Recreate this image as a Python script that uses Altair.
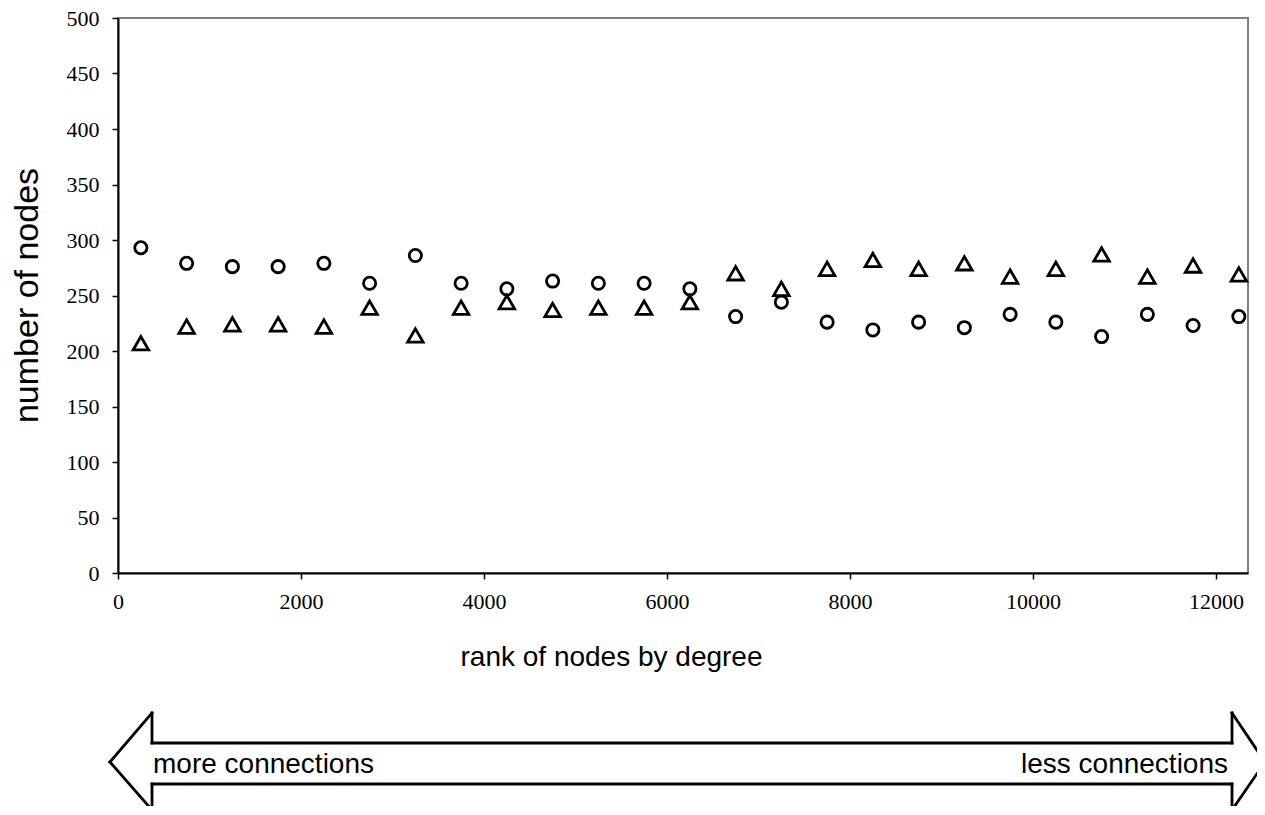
import altair as alt
import pandas as pd

rank = [250, 750, 1250, 1750, 2250, 2750, 3250, 3750, 4250, 4750, 5250, 5750,
        6250, 6750, 7250, 7750, 8250, 8750, 9250, 9750, 10250, 10750, 11250,
        11750, 12250]
circles = [293, 279, 276, 276, 279, 261, 286, 261, 256, 263, 261, 261, 256,
           231, 244, 226, 219, 226, 221, 233, 226, 213, 233, 223, 231]
triangles = [207, 222, 224, 224, 222, 239, 214, 239, 244, 237, 239, 239, 244,
             270, 256, 274, 282, 274, 279, 267, 274, 287, 267, 277, 269]
x_ticks = [0, 2000, 4000, 6000, 8000, 10000, 12000]
y_ticks = [0, 50, 100, 150, 200, 250, 300, 350, 400, 450, 500]

df_c = pd.DataFrame({"rank": rank, "nodes": circles})
df_t = pd.DataFrame({"rank": rank, "nodes": triangles})
dummy = pd.DataFrame({"d": [0]})

x_enc = alt.X(
    "rank:Q",
    scale=alt.Scale(domain=[0, 12350], nice=False, zero=False),
    axis=alt.Axis(
        values=x_ticks, format="d", title="rank of nodes by degree", grid=False,
        labelPadding=12, labelFlush=False, tickSize=6,
        titleX=493, titleY=92, titleBaseline="alphabetic", titleAlign="center",
        titleFontSize=28,
    ),
)
y_enc = alt.Y(
    "nodes:Q",
    scale=alt.Scale(domain=[0, 500], nice=False),
    axis=alt.Axis(
        values=y_ticks, format="d", title="number of nodes", grid=False,
        labelPadding=13, tickSize=6,
        titleX=-81, titleY=277, titleAngle=270, titleBaseline="alphabetic",
        titleAlign="center", titleFontSize=34,
    ),
)

circ = alt.Chart(df_c).mark_point(
    shape="circle", filled=False, color="black", strokeWidth=2.8, size=150, opacity=1
).encode(x=x_enc, y=y_enc)

tri = alt.Chart(df_t).mark_point(
    shape="triangle-up", filled=False, color="black", strokeWidth=2.8, size=240, opacity=1
).encode(x="rank:Q", y="nodes:Q")

# decorative double arrow (plot-relative pixels)
pts = [(-8, 744), (34, 695), (34, 725), (1114, 725), (1114, 695), (1147, 744),
       (1114, 792), (1114, 766), (34, 766), (34, 792)]
segs = []
for i in range(len(pts)):
    a = pts[i]
    b = pts[(i + 1) % len(pts)]
    segs.append(
        alt.Chart(dummy).mark_rule(color="black", strokeWidth=2.8, strokeCap="square").encode(
            x=alt.value(a[0]), y=alt.value(a[1]), x2=alt.value(b[0]), y2=alt.value(b[1])
        )
    )

t_more = alt.Chart(dummy).mark_text(
    align="left", baseline="alphabetic", fontSize=28, font="Liberation Sans", color="black"
).encode(x=alt.value(35), y=alt.value(755), text=alt.value("more connections"))
t_less = alt.Chart(dummy).mark_text(
    align="right", baseline="alphabetic", fontSize=28, font="Liberation Sans", color="black"
).encode(x=alt.value(1110), y=alt.value(755), text=alt.value("less connections"))

chart = alt.layer(circ, tri, *segs, t_more, t_less).properties(
    width=1130, height=555,
    autosize=alt.AutoSizeParams(type="none"),
    padding={"left": 110, "top": 10, "right": 9, "bottom": 233},
).configure_view(
    stroke="#808080", strokeWidth=2
).configure_axis(
    domainColor="black", domainWidth=2, tickColor="black", tickWidth=1.5,
    labelFont="Liberation Serif", labelFontSize=22, labelColor="black",
    titleFont="Liberation Sans", titleFontWeight="normal", titleColor="black",
)

chart.save("out.html", embed_options={"renderer": "svg", "actions": False})
